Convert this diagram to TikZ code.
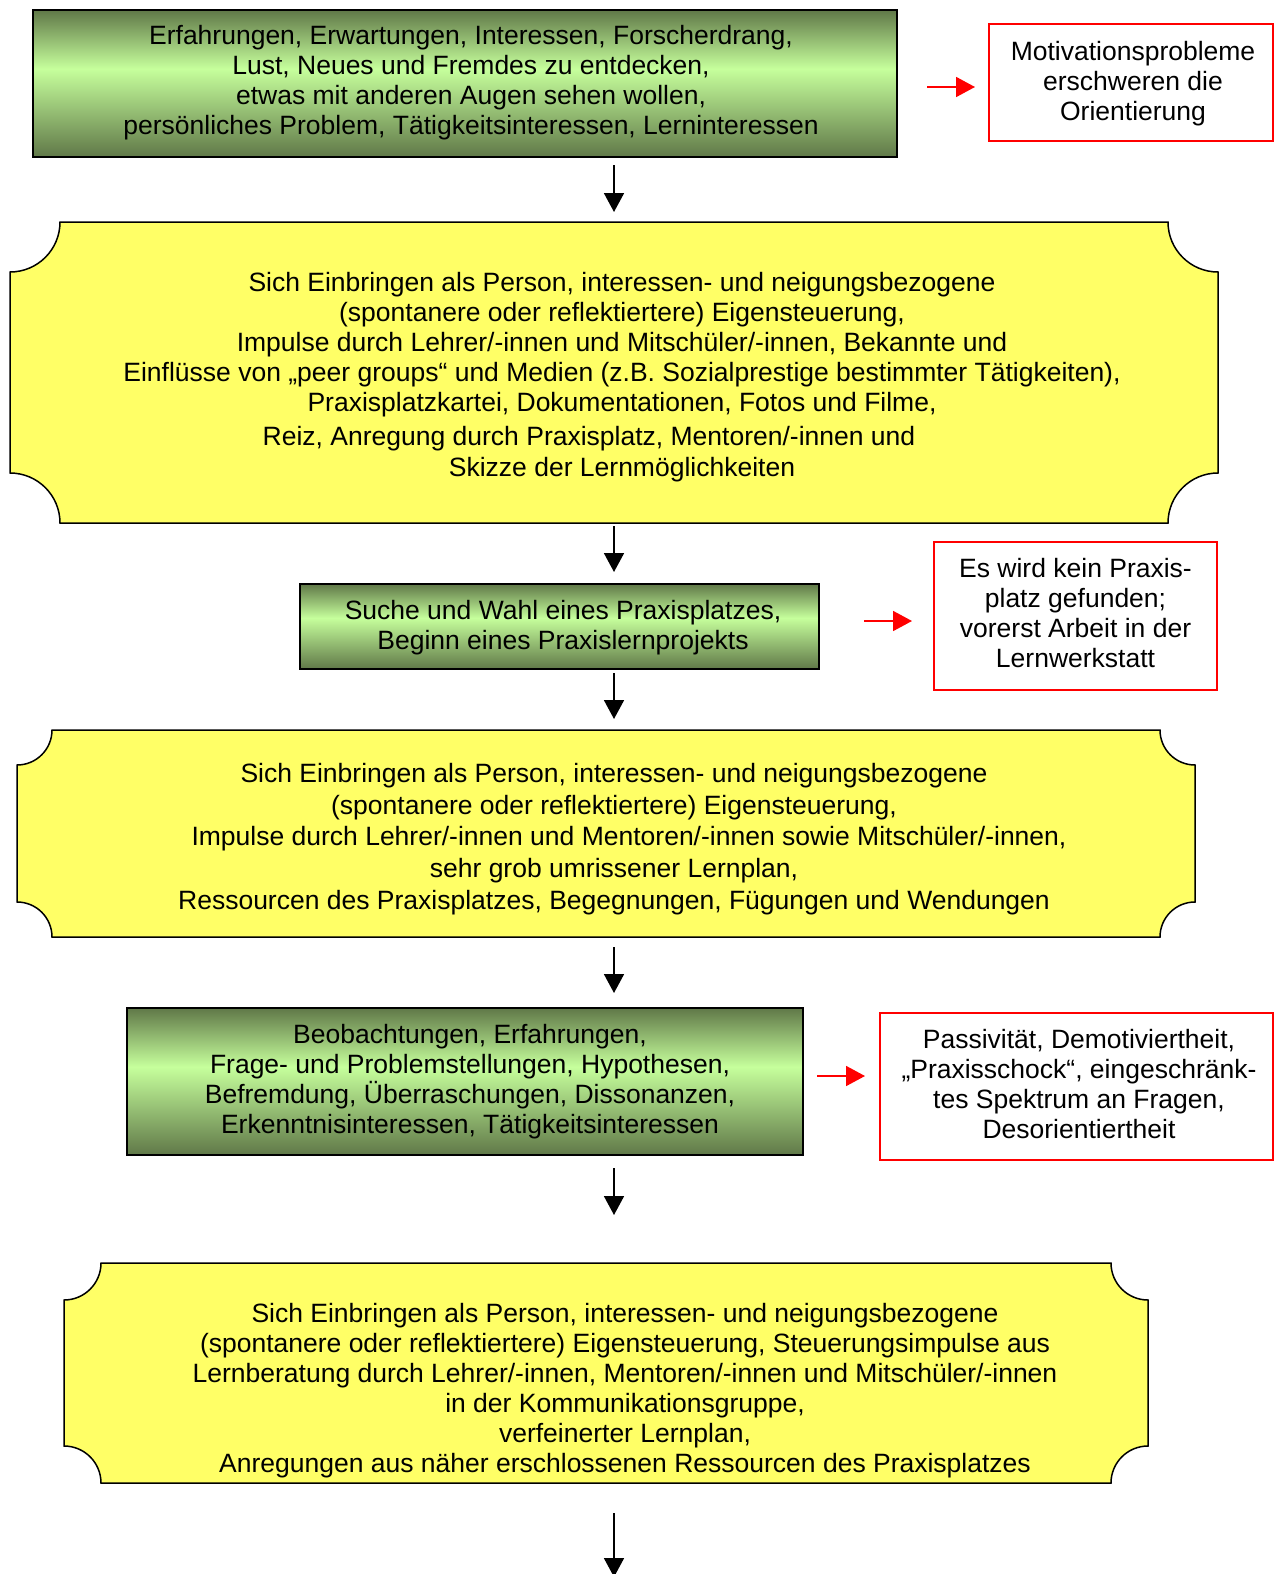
\documentclass[tikz,border=0pt]{standalone}
\usepackage{fontspec}
\setmainfont{Liberation Sans}
\usetikzlibrary{arrows.meta,calc}
\definecolor{gdark}{RGB}{96,120,72}
\definecolor{glight}{RGB}{198,255,156}
\definecolor{ylw}{RGB}{255,255,102}
\pgfdeclareverticalshading{greenbar}{100bp}{color(0bp)=(gdark); color(25bp)=(gdark); color(55bp)=(glight); color(75bp)=(gdark); color(100bp)=(gdark)}
\newcommand\drawplaque[2]{%
  \draw[plaque] ($(#1.north west)+(#2,0)$) -- ($(#1.north east)+(-#2,0)$)
    .. controls ($(#1.north east)+(-#2,0.5523*#2)$) and ($(#1.north east)+(-0.5523*#2,#2)$) .. ($(#1.north east)+(0,#2)$)
    -- ($(#1.south east)+(0,-#2)$)
    .. controls ($(#1.south east)+(-0.5523*#2,-#2)$) and ($(#1.south east)+(-#2,-0.5523*#2)$) .. ($(#1.south east)+(-#2,0)$)
    -- ($(#1.south west)+(#2,0)$)
    .. controls ($(#1.south west)+(#2,-0.5523*#2)$) and ($(#1.south west)+(0.5523*#2,-#2)$) .. ($(#1.south west)+(0,-#2)$)
    -- ($(#1.north west)+(0,#2)$)
    .. controls ($(#1.north west)+(0.5523*#2,#2)$) and ($(#1.north west)+(#2,0.5523*#2)$) .. cycle;}
\begin{document}
\begin{tikzpicture}[x=1pt,y=-1pt,
  greenbox/.style={draw=black, line width=1.5pt, shade, shading=greenbar, rectangle, inner sep=0pt, outer sep=0pt},
  redbox/.style={draw=red, line width=1.8pt, rectangle, inner sep=0pt, outer sep=0pt},
  areabox/.style={rectangle, inner sep=0pt, outer sep=0pt},
  plaque/.style={fill=ylw, draw=black, line width=1.5pt},
  txt/.style={align=center, font=\fontsize{26.5}{30}\selectfont, inner sep=0pt},
  arr/.style={-{Triangle[width=20pt,length=19pt]}, line width=1.8pt},
  redarr/.style={arr, draw=red, fill=red}]
\useasboundingbox (0,0) rectangle (1274,1574);
\coordinate (colx) at (614,0);
% boxes
\node[greenbox, minimum width=864pt, minimum height=147pt] (g1) at (465,83.5) {};
\node[redbox, minimum width=284pt, minimum height=117pt] (r1) at (1131,82.5) {};
\node[areabox, minimum width=1208pt, minimum height=301pt] (y1) at (614,372.5) {};
\drawplaque{y1}{50}
\node[greenbox, minimum width=519pt, minimum height=85pt] (g2) at (559.5,626.5) {};
\node[redbox, minimum width=283pt, minimum height=148pt] (r2) at (1075.5,616) {};
\node[areabox, minimum width=1178pt, minimum height=207pt] (y2) at (606,833.5) {};
\drawplaque{y2}{35}
\node[greenbox, minimum width=676pt, minimum height=147pt] (g3) at (465,1081.5) {};
\node[redbox, minimum width=393pt, minimum height=147pt] (r3) at (1076.5,1086.5) {};
\node[areabox, minimum width=1084pt, minimum height=220pt] (y3) at (606,1373) {};
\drawplaque{y3}{37}
\coordinate (endpt) at (614,1577);
% texts
\node[txt] (t1) at (471,82.5) {Erfahrungen, Erwartungen, Interessen, Forscherdrang,\\ Lust, Neues und Fremdes zu entdecken,\\ etwas mit anderen Augen sehen wollen,\\ persönliches Problem, Tätigkeitsinteressen, Lerninteressen};
\node[txt] (tr1) at (1133,83.3) {Motivationsprobleme\\ erschweren die\\ Orientierung};
\node[txt] (ty1) at (622,377.5) {Sich Einbringen als Person, interessen- und neigungsbezogene\\ (spontanere oder reflektiertere) Eigensteuerung,\\ Impulse durch Lehrer/-innen und Mitschüler/-innen, Bekannte und\\ Einflüsse von „peer groups“ und Medien (z.B. Sozialprestige bestimmter Tätigkeiten),\\ Praxisplatzkartei, Dokumentationen, Fotos und Filme,\\[4pt] Reiz, Anregung durch Praxisplatz, Mentoren/-innen und\hspace*{66pt}\mbox{}\\[1pt] Skizze der Lernmöglichkeiten};
\node[txt] (t2) at (563,627.5) {Suche und Wahl eines Praxisplatzes,\\ Beginn eines Praxislernprojekts};
\node[txt] (tr2) at (1075.5,613.5) {Es wird kein Praxis-\\ platz gefunden;\\ vorerst Arbeit in der\\ Lernwerkstatt};
\node[txt, font=\fontsize{26.5}{31.7}\selectfont] (ty2) at (614,839) {Sich Einbringen als Person, interessen- und neigungsbezogene\\ (spontanere oder reflektiertere) Eigensteuerung,\\ \mbox{}\hspace*{30pt}Impulse durch Lehrer/-innen und Mentoren/-innen sowie Mitschüler/-innen,\\ sehr grob umrissener Lernplan,\\ Ressourcen des Praxisplatzes, Begegnungen, Fügungen und Wendungen};
\node[txt] (t3) at (470,1081.5) {Beobachtungen, Erfahrungen,\\ Frage- und Problemstellungen, Hypothesen,\\ Befremdung, Überraschungen, Dissonanzen,\\ Erkenntnisinteressen, Tätigkeitsinteressen};
\node[txt] (tr3) at (1079,1084) {Passivität, Demotiviertheit,\\ „Praxisschock“, eingeschränk-\\ tes Spektrum an Fragen,\\ Desorientiertheit};
\node[txt] (ty3) at (625,1391) {Sich Einbringen als Person, interessen- und neigungsbezogene\\ (spontanere oder reflektiertere) Eigensteuerung, Steuerungsimpulse aus\\ Lernberatung durch Lehrer/-innen, Mentoren/-innen und Mitschüler/-innen\\ in der Kommunikationsgruppe,\\ verfeinerter Lernplan,\\ Anregungen aus näher erschlossenen Ressourcen des Praxisplatzes};
% black arrows
\draw[arr, shorten <=8pt, shorten >=10pt] (g1.south -| colx) -- (y1.north -| colx);
\draw[arr, shorten <=3pt, shorten >=12pt] (y1.south -| colx) -- (g2.north -| colx);
\draw[arr, shorten <=4pt, shorten >=11pt] (g2.south -| colx) -- (y2.north -| colx);
\draw[arr, shorten <=10pt, shorten >=15pt] (y2.south -| colx) -- (g3.north -| colx);
\draw[arr, shorten <=13pt, shorten >=48pt] (g3.south -| colx) -- (y3.north -| colx);
\draw[arr, shorten <=30pt] (y3.south -| colx) -- (endpt);
% red arrows
\draw[redarr, shorten <=30pt, shorten >=14pt] (g1.east |- 0,87) -- (r1.west |- 0,87);
\draw[redarr, shorten <=45pt, shorten >=22pt] (g2.east |- 0,621) -- (r2.west |- 0,621);
\draw[redarr, shorten <=14pt, shorten >=15pt] (g3.east |- 0,1076) -- (r3.west |- 0,1076);
\end{tikzpicture}
\end{document}
